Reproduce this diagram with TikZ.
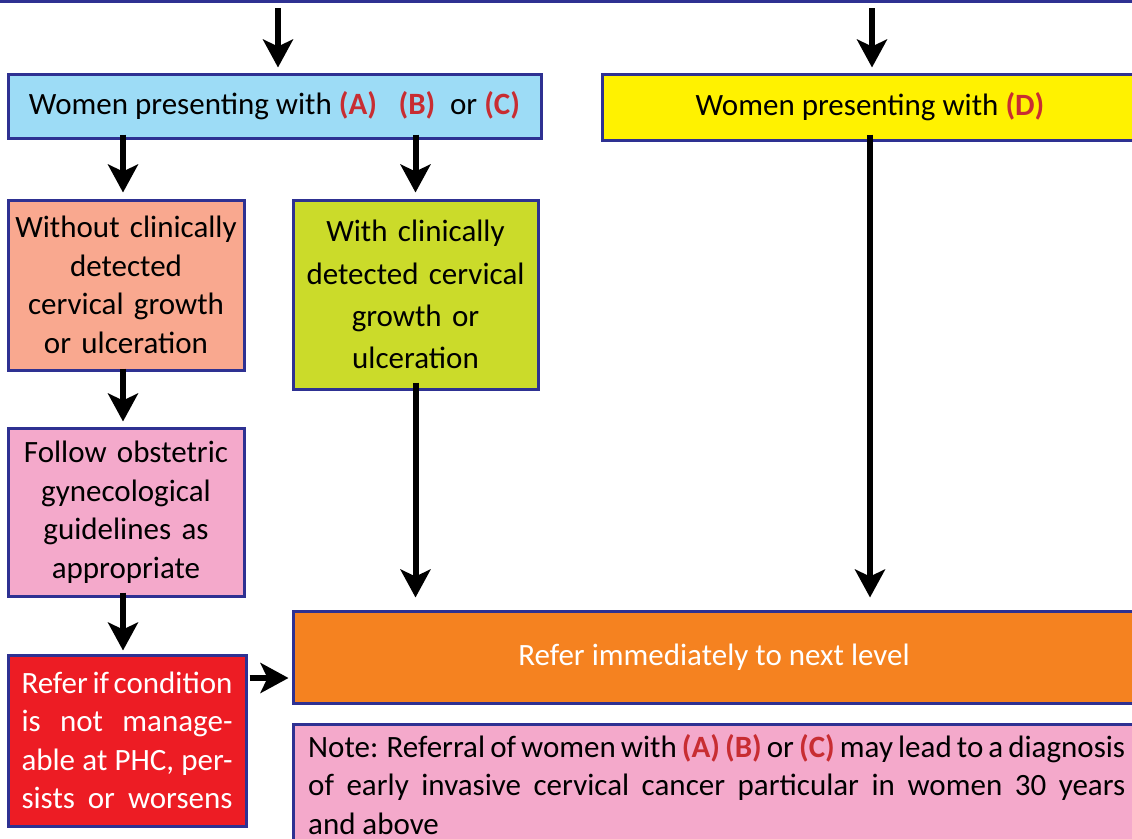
\documentclass[tikz,border=0pt]{standalone}
\usepackage{fontspec}
\setmainfont{Carlito}
\usetikzlibrary{arrows.meta}
\definecolor{bord}{RGB}{46,49,146}
\definecolor{cblue}{RGB}{157,220,246}
\definecolor{cyellow}{RGB}{255,242,0}
\definecolor{csalmon}{RGB}{249,168,143}
\definecolor{clime}{RGB}{203,219,42}
\definecolor{cpink}{RGB}{244,169,203}
\definecolor{cred}{RGB}{237,28,36}
\definecolor{corange}{RGB}{245,130,32}
\definecolor{lett}{RGB}{200,45,50}
\newcommand{\lt}[1]{\textcolor{lett}{\textbf{#1}}}
\tikzset{
  box/.style={draw=bord, line width=3pt, inner sep=0pt, font=\fontsize{31}{38.5}\selectfont},
  arr/.style={line width=6pt, -{Stealth[length=28pt,width=30pt,inset=7pt]}}
}
\begin{document}
\begin{tikzpicture}[x=1pt,y=-1pt]
\useasboundingbox (0,0) rectangle (1132,838);
% top bar
\draw[bord, line width=3pt] (-5,1.5) -- (1140,1.5);
\coordinate (t1) at (278,8);
\coordinate (t2) at (872,8);
\coordinate (lc) at (123,0);
% boxes
\node[box, fill=cblue, minimum width=533pt, minimum height=64pt] (a) at (274.5,106) {Women presenting with \lt{(A)}\hspace{0.7em}\lt{(B)}\hspace{0.25em} or \lt{(C)}};
\node[box, fill=cyellow, minimum width=536pt, minimum height=66pt] (d) at (870,107) {Women presenting with \lt{(D)}};
\node[box, fill=csalmon, minimum width=236pt, minimum height=170pt, text width=236pt, align=center] (wo) at (126,285) {Without clinically\\detected\\cervical growth\\or ulceration};
\node[box, fill=clime, minimum width=245pt, minimum height=189pt, text width=245pt, align=center, font=\fontsize{31}{42.3}\selectfont] (wi) at (415.5,294.5) {With clinically\\detected cervical\\growth or\\ulceration};
\node[box, fill=cpink, minimum width=236pt, minimum height=168pt, text width=236pt, align=center] (fo) at (126,512) {Follow obstetric\\gynecological\\guidelines as\\appropriate};
\node[box, fill=cred, minimum width=238pt, minimum height=171pt, text width=238pt, align=center] (rf) at (127,740.5) {\parbox{211pt}{\color{white}\parfillskip=0pt\spaceskip=0.22em plus 2em minus 0.12em Refer if condition\linebreak is not manage-\linebreak able at PHC, per-\linebreak sists or worsens}};
\node[box, fill=corange, minimum width=842pt, minimum height=92pt, text=white] (ref) at (714,657) {Refer immediately to next level};
\node[box, fill=cpink, minimum width=842pt, minimum height=140pt, anchor=north] (note) at (714,723) {};
\node[anchor=north west, inner sep=0pt, text width=817pt, align=justify, font=\fontsize{31}{38.5}\selectfont] (notetxt) at (308,734) {\spaceskip=0.22em plus 2em minus 0.12em Note: Referral of women with \lt{(A)} \lt{(B)} or \lt{(C)} may lead to a diagnosis\linebreak of early invasive cervical cancer particular in women 30 years\linebreak and above};
% arrows
\draw[arr, shorten >=5pt] (t1) -- (a.north -| t1);
\draw[arr, shorten >=5pt] (t2) -- (d.north -| t2);
\draw[arr, shorten >=6pt] ([yshift=5pt]a.south -| lc) -- (wo.north -| lc);
\draw[arr, shorten >=6pt] ([yshift=5pt]a.south -| wi) -- (wi.north);
\draw[arr, shorten >=12pt] ([yshift=7pt]d.south) -- (d.south |- ref.north);
\draw[arr, shorten >=12pt] ([yshift=8pt]wi.south) -- (ref.north -| wi);
\draw[arr, shorten >=5pt] ([yshift=3pt]wo.south -| lc) -- (fo.north -| lc);
\draw[arr, shorten >=3pt] ([yshift=5pt]fo.south -| lc) -- (rf.north -| lc);
\draw[arr, shorten >=3pt] ([xshift=2pt]rf.east |- 0,678) -- (ref.west |- 0,678);
\end{tikzpicture}
\end{document}
